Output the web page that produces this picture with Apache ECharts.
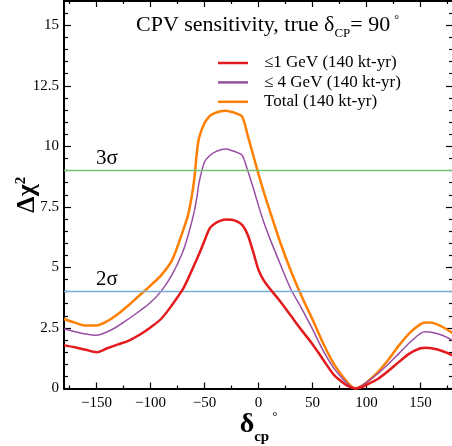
<!DOCTYPE html>
<html><head><meta charset="utf-8">
<script src="https://cdn.jsdelivr.net/npm/echarts@6/dist/echarts.min.js"></script>
<style>html,body{margin:0;padding:0;background:#fff}#c{width:452px;height:446px}</style>
</head><body><div id="c"></div>
<script>
// ---- data ----
const delta = [-180,-170,-160,-150,-140,-130,-120,-110,-100,-90,-80,-70,-65,-60,-57,-55,-50,-45,-40,-35,-30,-25,-20,-15,-10,-5,0,5,10,20,30,40,50,60,70,80,85,90,95,100,110,120,130,140,150,155,160,170,180];
const le1GeV = [1.78,1.70,1.60,1.50,1.66,1.82,1.98,2.22,2.52,2.88,3.45,4.10,4.55,5.05,5.35,5.55,6.10,6.62,6.82,6.93,6.98,6.97,6.90,6.75,6.35,5.65,4.90,4.45,4.15,3.60,3.00,2.40,1.83,1.18,0.55,0.18,0.06,0.00,0.05,0.15,0.38,0.72,1.10,1.45,1.66,1.68,1.66,1.55,1.36];
const le4GeV = [2.47,2.35,2.25,2.20,2.34,2.58,2.88,3.20,3.55,4.02,4.70,5.65,6.35,7.20,7.90,8.50,9.35,9.62,9.77,9.86,9.89,9.83,9.75,9.63,9.00,8.30,7.55,6.85,6.25,5.15,4.10,3.30,2.45,1.55,0.82,0.30,0.10,0.00,0.10,0.25,0.60,1.00,1.45,1.90,2.28,2.34,2.32,2.20,1.98];
const totalExp = [2.87,2.72,2.60,2.60,2.78,3.08,3.45,3.85,4.25,4.68,5.30,6.50,7.20,8.45,9.75,10.35,10.95,11.26,11.38,11.45,11.47,11.42,11.35,11.22,10.45,9.65,8.85,8.10,7.40,6.05,4.85,3.80,2.85,1.85,1.00,0.38,0.13,0.00,0.10,0.25,0.66,1.18,1.78,2.30,2.66,2.73,2.72,2.55,2.27];
const seriesNames = ['≤1 GeV (140 kt-yr)', '≤ 4 GeV (140 kt-yr)', 'Total (140 kt-yr)'];
const sigmaLevels = [4, 9];
const sigmaLabels = ['2σ', '3σ'];
const xTickLabels = [-150,-100,-50,0,50,100,150];
const xMinorTicks = [-175,-125,-75,-25,25,75,125,175];
const yTickLabels = [0,2.5,5,7.5,10,12.5,15];
const yMinorTicks = [0.5,1,1.5,2,3,3.5,4,4.5,5.5,6,6.5,7,8,8.5,9,9.5,10.5,11,11.5,12,13,13.5,14,14.5,15.5];

// ---- styling ----
const FONT = "'Liberation Serif','DejaVu Serif',serif";
const COLORS = ['#e41a1c', '#984ea3', '#ff7f00'];
const WIDTHS = [2.5, 1.5, 2.5];
const SIGMA_COLORS = ['#7aaed8', '#74c476'];

function xAx(pos, ticks, len, showLine, labels, name) {
  const a = {
    type: 'value', min: -180, max: 180, position: pos, gridIndex: 0,
    axisLine: { show: showLine, onZero: false, lineStyle: { color: '#000', width: 2 } },
    axisTick: { show: true, inside: true, length: len, customValues: ticks, lineStyle: { color: '#000', width: 1.2 } },
    axisLabel: labels ? {
      customValues: ticks, color: '#000', fontFamily: FONT, fontSize: 15, margin: 7,
      formatter: v => (v < 0 ? '\u2212' + Math.abs(v) : String(v))
    } : { show: false, customValues: ticks },
    splitLine: { show: false }
  };
  if (name) Object.assign(a, name);
  return a;
}
function yAx(pos, ticks, len, showLine, labels, name) {
  const a = {
    type: 'value', min: 0, max: 16, position: pos, gridIndex: 0,
    axisLine: { show: showLine, onZero: false, lineStyle: { color: '#000', width: 2 } },
    axisTick: { show: true, inside: true, length: len, customValues: ticks, lineStyle: { color: '#000', width: 1.2 } },
    axisLabel: labels ? {
      customValues: ticks, color: '#000', fontFamily: FONT, fontSize: 15, margin: 5,
      formatter: v => String(v)
    } : { show: false, customValues: ticks },
    splitLine: { show: false }
  };
  if (name) Object.assign(a, name);
  return a;
}

const xName = {
  name: '{d|δ}{s|cp}{o|°}', nameLocation: 'middle', nameGap: 22, nameMoveOverlap: false,
  nameTextStyle: { fontFamily: FONT, color: '#000', verticalAlign: 'top', rich: {
    d: { fontSize: 28, fontWeight: 'bold', fontFamily: FONT, color: '#000' },
    s: { fontSize: 15, fontWeight: 'bold', fontFamily: FONT, color: '#000', verticalAlign: 'bottom', padding: [0,0,-6,0] },
    o: { fontSize: 13, fontFamily: FONT, color: '#000', verticalAlign: 'top', padding: [0,0,0,3] }
  } }
};
const yName = {
  name: '{a|Δχ}{b|2}', nameLocation: 'middle', nameGap: 24, nameRotate: 90, nameMoveOverlap: false,
  nameTextStyle: { fontFamily: FONT, color: '#000', rich: {
    a: { fontSize: 26, fontWeight: 'bold', fontFamily: FONT, color: '#000' },
    b: { fontSize: 15, fontWeight: 'bold', fontFamily: FONT, color: '#000', verticalAlign: 'top' }
  } }
};

const dataSets = [le1GeV, le4GeV, totalExp];
const lineSeries = dataSets.map((vals, i) => ({
  name: seriesNames[i], type: 'line', xAxisIndex: 0, yAxisIndex: 0,
  data: delta.map((d, j) => [d, vals[j]]),
  symbol: 'none', showSymbol: false, smooth: 0.3,
  color: COLORS[i], lineStyle: { color: COLORS[i], width: WIDTHS[i] },
  z: 5 - i, silent: true
}));

const sigmaSeries = {
  name: 'sigma', type: 'line', xAxisIndex: 0, yAxisIndex: 0, data: [], silent: true,
  markLine: {
    silent: true, symbol: 'none', animation: false,
    data: sigmaLevels.map((lv, i) => ({
      yAxis: lv,
      lineStyle: { color: SIGMA_COLORS[i], width: 1.3, type: 'solid' },
      label: { formatter: sigmaLabels[i] }
    })),
    label: { position: 'insideStartTop', fontFamily: FONT, fontSize: 21, color: '#000', padding: [0,0,0,30], distance: 2 }
  }
};

const chart = echarts.init(document.getElementById('c'), null, { renderer: 'canvas' });
chart.setOption({
  animation: false,
  backgroundColor: '#fff',
  grid: { left: 64, right: -1, top: 1, bottom: 57.5, containLabel: false, outerBoundsMode: 'none' },
  xAxis: [
    xAx('bottom', xTickLabels, 6, true, true, xName),
    xAx('bottom', xMinorTicks, 3, false, false),
    xAx('top', xTickLabels, 6, true, false),
    xAx('top', xMinorTicks, 3, false, false)
  ],
  yAxis: [
    yAx('left', yTickLabels, 7, true, true, yName),
    yAx('left', yMinorTicks, 4, false, false),
    yAx('right', yTickLabels, 7, true, false),
    yAx('right', yMinorTicks, 4, false, false)
  ],
  legend: {
    data: seriesNames, orient: 'vertical', left: 213, top: 49,
    icon: 'rect', itemWidth: 30, itemHeight: 2.5, itemGap: 1.4,
    textStyle: { fontFamily: FONT, fontSize: 17, color: '#000', lineHeight: 18, padding: [0,0,0,11] },
    selectedMode: false
  },
  graphic: [{
    type: 'text', x: 136, y: 14, silent: true,
    style: {
      text: '{a|CPV sensitivity, true δ}{s|CP}{a|= 90}{o|°}',
      fill: '#000',
      rich: {
        a: { fontSize: 22, fontFamily: FONT, fill: '#000', color: '#000' },
        s: { fontSize: 13, fontFamily: FONT, fill: '#000', color: '#000', verticalAlign: 'bottom', padding: [0,0,-4,0] },
        o: { fontSize: 12, fontFamily: FONT, fill: '#000', color: '#000', verticalAlign: 'top', padding: [0,0,0,4] }
      }
    }
  }],
  series: [...lineSeries, sigmaSeries]
});
</script></body></html>
